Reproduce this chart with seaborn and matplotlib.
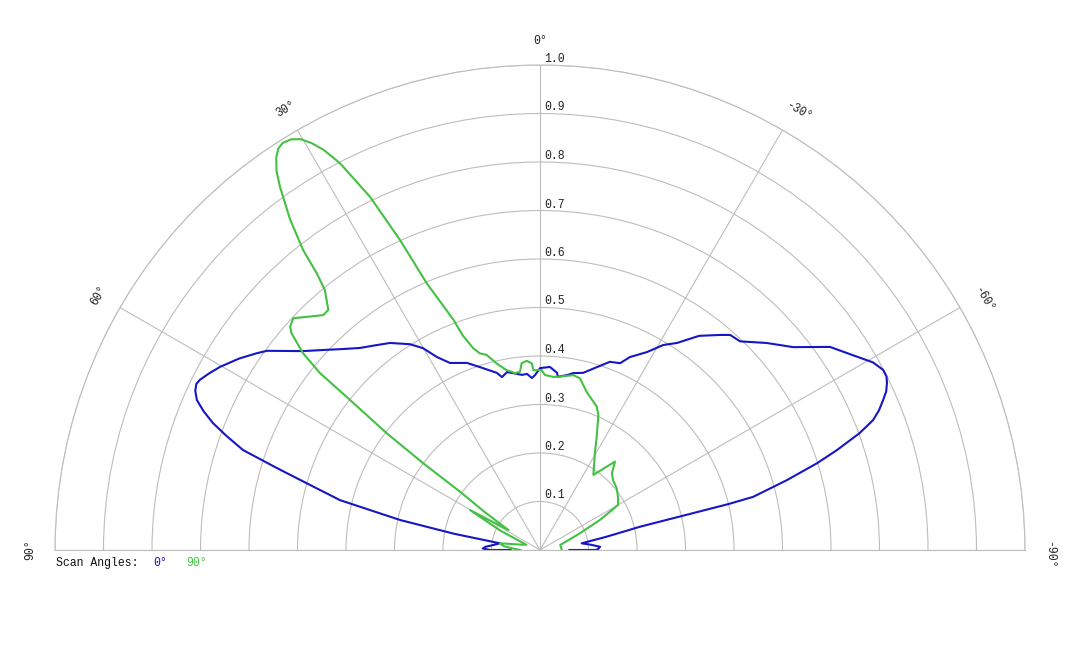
import numpy as np
import pandas as pd
import matplotlib
matplotlib.use("Agg")
import matplotlib.pyplot as plt
import seaborn as sns
from matplotlib.transforms import offset_copy

# ---------------- data (angle in degrees, normalised amplitude) ----------------
blue_theta = [90.0, 90.0, 88.5, 86.5, 83.5, 80.5, 79.3, 77.9, 76.0, 74.2, 72.7, 71.4,
              70.0, 68.8, 67.6, 66.4, 65.2, 64.2, 63.4, 62.0, 60.2, 57.5, 55.2, 53.9,
              50.0, 47.0, 44.4, 41.7, 38.5, 35.9, 32.3, 30.1, 28.1, 25.7, 21.3, 18.2,
              13.7, 12.4, 10.5, 8.7, 5.9, 4.2, 2.7, 1.6, 0.0, -3.1, -5.5, -5.9, -8.8,
              -10.6, -13.7, -17.3, -20.4, -23.2, -25.0, -28.4, -31.0, -33.5, -36.6,
              -39.9, -41.5, -43.8, -47.6, -51.3, -55.0, -58.1, -60.6, -62.3, -63.4,
              -64.3, -65.4, -66.4, -67.6, -68.7, -69.9, -71.4, -72.6, -74.2, -76.0,
              -76.3, -76.9, -78.7, -80.9, -84.0, -86.9, -89.0, -90.0, -90.0]
blue_r = [0.06, 0.103, 0.118, 0.112, 0.095, 0.084, 0.18, 0.295, 0.425, 0.493, 0.568, 0.646,
          0.688, 0.723, 0.750, 0.772, 0.783, 0.787, 0.784, 0.774, 0.760, 0.735, 0.711, 0.697,
          0.638, 0.605, 0.580, 0.558, 0.540, 0.527, 0.502, 0.481, 0.451, 0.428, 0.414, 0.397,
          0.376, 0.365, 0.373, 0.369, 0.363, 0.364, 0.355, 0.361, 0.375, 0.378, 0.367, 0.359,
          0.365, 0.371, 0.376, 0.395, 0.414, 0.419, 0.439, 0.464, 0.493, 0.512, 0.550,
          0.578, 0.592, 0.596, 0.633, 0.669, 0.730, 0.760, 0.788, 0.799, 0.799,
          0.794, 0.785, 0.772, 0.756, 0.737, 0.702, 0.646, 0.599, 0.529, 0.453,
          0.400, 0.212, 0.140, 0.087, 0.105, 0.124, 0.12, 0.115, 0.06]

green_theta = [-90.0, -76.0, -67.3, -63.4, -60.0, -55.5, -51.2, -46.5, -43.1, -40.3, -35.4,
               -29.6, -26.6, -23.4, -21.6, -16.4, -13.1, -10.8, -6.6, -4.4, -1.6, -0.5,
               2.1, 2.5, 4.0, 5.6, 6.4, 8.1, 9.0, 10.5, 13.1, 15.3, 17.0, 18.3, 19.8,
               20.6, 23.0, 24.3, 25.7, 27.35, 28.4, 29.3, 30.2, 31.2, 32.3, 33.1, 33.9,
               34.8, 35.6, 37.1, 38.3, 38.9, 39.6, 41.4, 42.7, 46.8, 48.2, 48.9, 50.3,
               51.2, 51.7, 52.7, 53.4, 53.9, 55.5, 57.7, 60.3, 64.0, 69.0, 74.0, 80.5,
               84.0, 88.0, 90.0]
green_r = [0.045, 0.043, 0.089, 0.138, 0.186, 0.195, 0.203, 0.208, 0.217, 0.239, 0.190,
           0.229, 0.261, 0.303, 0.318, 0.340, 0.3635, 0.367, 0.360, 0.358, 0.361, 0.371,
           0.371, 0.385, 0.391, 0.387, 0.370, 0.368, 0.372, 0.377, 0.395, 0.417, 0.424, 0.438, 0.47,
           0.507, 0.597, 0.701, 0.808, 0.898, 0.938, 0.962, 0.980, 0.990, 0.993, 0.988, 0.975,
           0.952, 0.921, 0.854, 0.788, 0.733, 0.696, 0.660, 0.659, 0.698, 0.691, 0.680, 0.635,
           0.582, 0.499, 0.397, 0.300, 0.204, 0.14, 0.077, 0.166, 0.09, 0.03, 0.04, 0.084,
           0.075, 0.05, 0.04]

r_ticks = [0.1, 0.2, 0.3, 0.4, 0.5, 0.6, 0.7, 0.8, 0.9, 1.0]
angle_ticks = [90, 60, 30, 0, -30, -60, -90]
series_names = ["0°", "90°"]

BLUE = "#1616c6"
GREEN = "#44c044"
GRID = "#bdbdbd"

sns.set_style("white")
plt.rcParams["font.family"] = ["Liberation Mono", "DejaVu Sans Mono"]
FS = 8.3

W, H = 1080, 648
cx, cy_top, R = 540, 550, 485          # centre (pixels from top) and radius
wedge_mid = cy_top - R / 2             # vertical middle of the half disc
fig = plt.figure(figsize=(W / 100, H / 100), dpi=100)
ax = fig.add_axes([(cx - R) / W, (H - wedge_mid - R) / H, 2 * R / W, 2 * R / H],
                  projection="polar")
ax.set_theta_zero_location("N")
ax.set_theta_direction(1)
ax.set_thetamin(-90)
ax.set_thetamax(90)
ax.set_ylim(0, 1)
ax.set_rticks(r_ticks)
ax.set_thetagrids(angle_ticks)
ax.set_xticklabels([])
ax.set_yticklabels([])
ax.grid(True, color=GRID, lw=0.8)
for s in ax.spines.values():
    s.set_color(GRID)
    s.set_linewidth(0.8)

df_b = pd.DataFrame({"theta": np.deg2rad(blue_theta), "r": blue_r})
df_g = pd.DataFrame({"theta": np.deg2rad(green_theta), "r": green_r})
sns.lineplot(data=df_b, x="theta", y="r", sort=False, estimator=None, ax=ax,
             color=BLUE, lw=1.5)
sns.lineplot(data=df_g, x="theta", y="r", sort=False, estimator=None, ax=ax,
             color=GREEN, lw=1.5)
ax.set_xlabel("")
ax.set_ylabel("")

# radial labels
tr = offset_copy(ax.transData, fig=fig, x=4, y=6, units="dots")
for v in r_ticks:
    ax.text(0, v, f"{v:.1f}", transform=tr, ha="left", va="center",
            fontsize=FS, color="#222222")

# angle labels (negative ones sit a little further along their reading direction)
for a in angle_ticks:
    shift = 5 if a < 0 else 0
    ox = shift * np.cos(np.deg2rad(a))
    oy = shift * np.sin(np.deg2rad(a))
    t = offset_copy(ax.transData, fig=fig, x=ox, y=oy, units="dots")
    ax.text(np.deg2rad(a), 1.05, f"{a}°", rotation=a, rotation_mode="anchor",
            ha="center", va="center", fontsize=FS, color="#222222", transform=t)

# legend
ly = 1 - 563 / H
fig.text(56 / W, ly, "Scan Angles:", ha="left", va="center", fontsize=FS, color="#111111")
fig.text(153 / W, ly, series_names[0], ha="left", va="center", fontsize=FS, color=BLUE)
fig.text(186 / W, ly, series_names[1], ha="left", va="center", fontsize=FS, color=GREEN)

fig.savefig("out.png", dpi=100)
